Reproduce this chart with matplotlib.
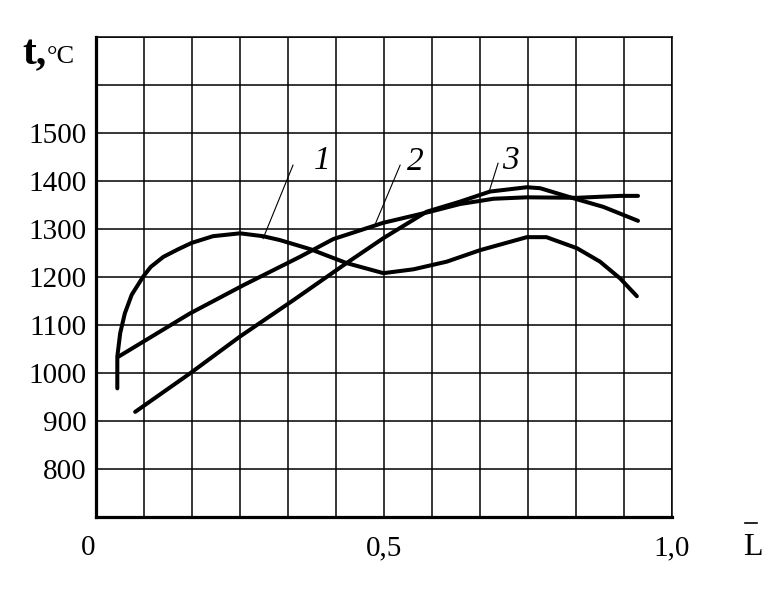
import numpy as np
import matplotlib
matplotlib.use('Agg')
import matplotlib.pyplot as plt
from matplotlib.lines import Line2D

plt.rcParams['font.family'] = ['Liberation Serif', 'DejaVu Serif']

# curve 1 - hump near the start, dip at 0.5, second hump at 0.75
x1 = [0.037, 0.037, 0.042, 0.050, 0.062, 0.082, 0.095, 0.117, 0.143, 0.166, 0.203, 0.250,
      0.290, 0.319, 0.372, 0.435, 0.499, 0.551, 0.609, 0.667, 0.748, 0.782,
      0.835, 0.875, 0.910, 0.939]
t1 = [968, 1034, 1083, 1124, 1163, 1201, 1221, 1242, 1258, 1271, 1285, 1291,
      1285, 1277, 1258, 1229, 1208, 1216, 1232, 1256, 1283, 1283,
      1260, 1232, 1197, 1160]

# curve 2 - gentle rise, flat at the end
x2 = [0.039, 0.163, 0.256, 0.354, 0.412, 0.499, 0.580, 0.632, 0.690, 0.748, 0.835, 0.910, 0.941]
t2 = [1034, 1124, 1183, 1242, 1279, 1313, 1336, 1352, 1363, 1366, 1365, 1369, 1369]

# curve 3 - steep rise, peak at 0.75
x3 = [0.068, 0.163, 0.250, 0.343, 0.435, 0.499, 0.574, 0.632, 0.684, 0.748, 0.771, 0.829, 0.881, 0.941]
t3 = [919, 999, 1076, 1152, 1229, 1281, 1336, 1357, 1378, 1387, 1385, 1364, 1346, 1317]

x_ticks = np.arange(13) / 12
x_ticklabels = ['', '', '', '', '', '', '0,5', '', '', '', '', '', '1,0']
y_ticks = np.arange(700, 1701, 100)
y_ticklabels = ['', '800', '900', '1000', '1100', '1200', '1300', '1400', '1500', '', '']

fig = plt.figure(figsize=(7.79, 5.95), dpi=100)
ax = fig.add_axes([96 / 779, 1 - 517 / 595, 576 / 779, 480 / 595])

ax.set_xlim(0, 1)
ax.set_ylim(700, 1700)
ax.set_xticks(x_ticks)
ax.set_xticklabels(x_ticklabels, fontsize=21)
ax.set_yticks(y_ticks)
ax.set_yticklabels(y_ticklabels, fontsize=21)
ax.tick_params(axis='both', length=0)
ax.tick_params(axis='x', pad=13)
ax.tick_params(axis='y', pad=7)
ax.grid(True, color='black', linewidth=1.1)
ax.set_axisbelow(True)

for side in ['top', 'right']:
    ax.spines[side].set_linewidth(1.1)
for side in ['left', 'bottom']:
    ax.spines[side].set_linewidth(2.3)

for xs, ts in [(x1, t1), (x2, t2), (x3, t3)]:
    ax.plot(xs, ts, color='black', linewidth=2.9, solid_capstyle='round', solid_joinstyle='round')

# curve numbers with pointer lines
labels = [('1', (0.392, 1443), (0.342, 1433), (0.290, 1280)),
          ('2', (0.554, 1440), (0.528, 1433), (0.484, 1308)),
          ('3', (0.719, 1443), (0.698, 1437), (0.682, 1376))]
for txt, pos, p0, p1 in labels:
    ax.text(pos[0], pos[1], txt, fontsize=24, style='italic', ha='center', va='center')
    ax.plot([p0[0], p1[0]], [p0[1], p1[1]], color='black', linewidth=0.8)

# origin label sits a little left of the axis
fig.text(88 / 779, 1 - 548 / 595, '0', fontsize=21, ha='center', va='center')

fig.text(22 / 779, 1 - 64 / 595, 't,', fontsize=30, fontweight='bold', ha='left', va='baseline')
fig.text(47 / 779, 1 - 63 / 595, '°C', fontsize=19, ha='left', va='baseline')

# L with an overbar
fig.text(743 / 779, 1 - 555 / 595, 'L', fontsize=23, ha='left', va='baseline')
fig.add_artist(Line2D([745 / 779, 757 / 779], [1 - 523 / 595, 1 - 523 / 595],
                      color='black', linewidth=1.2))

fig.savefig('out.png', dpi=100)
